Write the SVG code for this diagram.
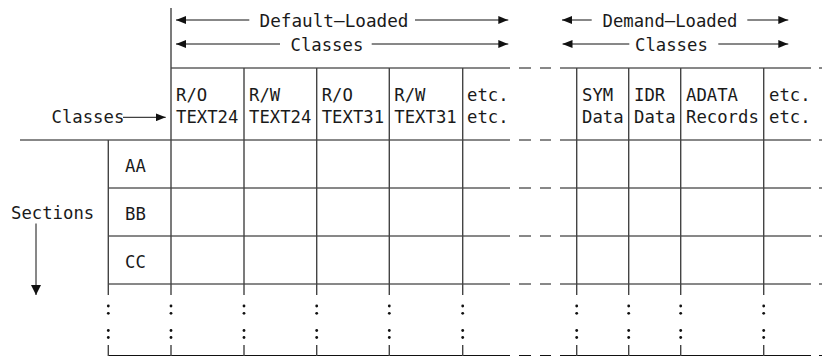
<svg xmlns="http://www.w3.org/2000/svg" width="822" height="356" viewBox="0 0 822 356">
  <style>
    text { font-family: "DejaVu Sans Mono", "Liberation Mono", monospace; font-size: 18.3px; fill: #1a1a1a; }
    .h { stroke: #111; stroke-width: 1; fill: none; }
    .v { stroke: #444; stroke-width: 1.4; fill: none; }
    .arr { stroke: #111; stroke-width: 1; fill: none; }
    .dot { fill: #111; }
  </style>
  <defs>
    <marker id="ah" markerWidth="10" markerHeight="8" refX="10" refY="4" orient="auto" markerUnits="userSpaceOnUse">
      <path d="M0,0 L10,4 L0,8 Z" fill="#111"/>
    </marker>
    <marker id="ahs" markerWidth="10" markerHeight="10" refX="10" refY="5" orient="auto" markerUnits="userSpaceOnUse">
      <path d="M0,0 L10,5 L0,10 Z" fill="#111"/>
    </marker>
    <!-- column dots below the last section -->
    <g id="dots">
      <circle class="dot" cx="0" cy="306" r="1.4"/>
      <circle class="dot" cx="0" cy="313.3" r="1.4"/>
      <circle class="dot" cx="0" cy="330.5" r="1.4"/>
      <circle class="dot" cx="0" cy="337.5" r="1.4"/>
    </g>
  </defs>

  <!-- horizontal rules, broken by the gap between the two groups of classes -->
  <g id="grid-rules">
    <path class="h" d="M171,68 H510 M519,68 H531 M540,68 H551 M560,68 H811 M819,68 H822"/>
    <path class="h" d="M20,140 H510 M519,140 H531 M540,140 H551 M560,140 H811 M819,140 H822"/>
    <path class="h" d="M108.3,188 H510 M519,188 H531 M540,188 H551 M560,188 H811 M819,188 H822"/>
    <path class="h" d="M108.3,236 H510 M519,236 H531 M540,236 H551 M560,236 H811 M819,236 H822"/>
    <path class="h" d="M108.3,284 H510 M519,284 H531 M540,284 H551 M560,284 H811 M819,284 H822"/>
    <path class="h" stroke="#888" d="M108.3,355.5 H510 M519,355.5 H531 M540,355.5 H551 M560,355.5 H811 M819,355.5 H822"/>
  </g>

  <!-- vertical rules -->
  <g id="grid-columns">
    <path class="v" d="M108.3,140 V295 M108.3,345 V356"/>
    <path class="v" d="M171,8 V295 M171,345 V356"/>
    <path class="v" d="M244,68 V295 M244,345 V356"/>
    <path class="v" d="M316.7,68 V295 M316.7,345 V356"/>
    <path class="v" d="M389.3,68 V295 M389.3,345 V356"/>
    <path class="v" d="M462.7,68 V295 M462.7,345 V356"/>
    <path class="v" d="M576.7,68 V295 M576.7,345 V356"/>
    <path class="v" d="M628.7,68 V295 M628.7,345 V356"/>
    <path class="v" d="M680.7,68 V295 M680.7,345 V356"/>
    <path class="v" d="M763.7,68 V295 M763.7,345 V356"/>
  </g>

  <g id="continuation-dots">
    <use href="#dots" x="108.3"/>
    <use href="#dots" x="171"/>
    <use href="#dots" x="244"/>
    <use href="#dots" x="316.7"/>
    <use href="#dots" x="389.3"/>
    <use href="#dots" x="462.7"/>
    <use href="#dots" x="576.7"/>
    <use href="#dots" x="628.7"/>
    <use href="#dots" x="680.7"/>
    <use href="#dots" x="763.7"/>
  </g>

  <!-- group headings -->
  <g id="default-loaded">
    <text x="259.5" y="26.7" textLength="149" lengthAdjust="spacingAndGlyphs">Default—Loaded</text>
    <text x="290.5" y="50.7" textLength="72.8" lengthAdjust="spacingAndGlyphs">Classes</text>
  </g>
  <g id="demand-loaded">
    <text x="602.5" y="26.7" textLength="135" lengthAdjust="spacingAndGlyphs">Demand—Loaded</text>
    <text x="635" y="50.7" textLength="72.8" lengthAdjust="spacingAndGlyphs">Classes</text>
  </g>

  <!-- class columns -->
  <g id="col-ro-text24"><text x="176" y="100.7" textLength="31.2" lengthAdjust="spacingAndGlyphs">R/O</text><text x="176" y="122.7" textLength="62.4" lengthAdjust="spacingAndGlyphs">TEXT24</text></g>
  <g id="col-rw-text24"><text x="249" y="100.7" textLength="31.2" lengthAdjust="spacingAndGlyphs">R/W</text><text x="249" y="122.7" textLength="62.4" lengthAdjust="spacingAndGlyphs">TEXT24</text></g>
  <g id="col-ro-text31"><text x="321.7" y="100.7" textLength="31.2" lengthAdjust="spacingAndGlyphs">R/O</text><text x="321.7" y="122.7" textLength="62.4" lengthAdjust="spacingAndGlyphs">TEXT31</text></g>
  <g id="col-rw-text31"><text x="394.3" y="100.7" textLength="31.2" lengthAdjust="spacingAndGlyphs">R/W</text><text x="394.3" y="122.7" textLength="62.4" lengthAdjust="spacingAndGlyphs">TEXT31</text></g>
  <g id="col-etc-1"><text x="467" y="100.7" textLength="41.6" lengthAdjust="spacingAndGlyphs">etc.</text><text x="467" y="122.7" textLength="41.6" lengthAdjust="spacingAndGlyphs">etc.</text></g>
  <g id="col-sym"><text x="582" y="100.7" textLength="31.2" lengthAdjust="spacingAndGlyphs">SYM</text><text x="582" y="122.7" textLength="41.6" lengthAdjust="spacingAndGlyphs">Data</text></g>
  <g id="col-idr"><text x="634" y="100.7" textLength="31.2" lengthAdjust="spacingAndGlyphs">IDR</text><text x="634" y="122.7" textLength="41.6" lengthAdjust="spacingAndGlyphs">Data</text></g>
  <g id="col-adata"><text x="686" y="100.7" textLength="52" lengthAdjust="spacingAndGlyphs">ADATA</text><text x="686" y="122.7" textLength="72.8" lengthAdjust="spacingAndGlyphs">Records</text></g>
  <g id="col-etc-2"><text x="769" y="100.7" textLength="41.6" lengthAdjust="spacingAndGlyphs">etc.</text><text x="769" y="122.7" textLength="41.6" lengthAdjust="spacingAndGlyphs">etc.</text></g>

  <!-- axis labels -->
  <g id="classes-label"><text x="51.5" y="122.7" textLength="72.8" lengthAdjust="spacingAndGlyphs">Classes</text></g>
  <g id="sections-label"><text x="11" y="219.3" textLength="83.2" lengthAdjust="spacingAndGlyphs">Sections</text></g>

  <!-- section rows -->
  <g id="row-aa"><text x="125" y="171.5" textLength="20.8" lengthAdjust="spacingAndGlyphs">AA</text></g>
  <g id="row-bb"><text x="125" y="219.5" textLength="20.8" lengthAdjust="spacingAndGlyphs">BB</text></g>
  <g id="row-cc"><text x="125" y="267.5" textLength="20.8" lengthAdjust="spacingAndGlyphs">CC</text></g>

  <!-- arrows -->
  <g id="connectors">
    <line class="arr" x1="249.3" y1="20" x2="176" y2="20" marker-end="url(#ah)"/>
    <line class="arr" x1="415" y1="20" x2="508.3" y2="20" marker-end="url(#ah)"/>
    <line class="arr" x1="280" y1="44" x2="176" y2="44" marker-end="url(#ah)"/>
    <line class="arr" x1="371.7" y1="44" x2="508.3" y2="44" marker-end="url(#ah)"/>
    <line class="arr" x1="591.7" y1="20" x2="562" y2="20" marker-end="url(#ah)"/>
    <line class="arr" x1="747.3" y1="20" x2="788.3" y2="20" marker-end="url(#ah)"/>
    <line class="arr" x1="629.3" y1="44" x2="562.5" y2="44" marker-end="url(#ah)"/>
    <line class="arr" x1="718.3" y1="44" x2="788.3" y2="44" marker-end="url(#ah)"/>
    <line class="arr" x1="123" y1="117.3" x2="165.7" y2="117.3" marker-end="url(#ah)"/>
    <line class="arr" x1="36" y1="223.5" x2="36" y2="295" marker-end="url(#ahs)"/>
  </g>
</svg>
